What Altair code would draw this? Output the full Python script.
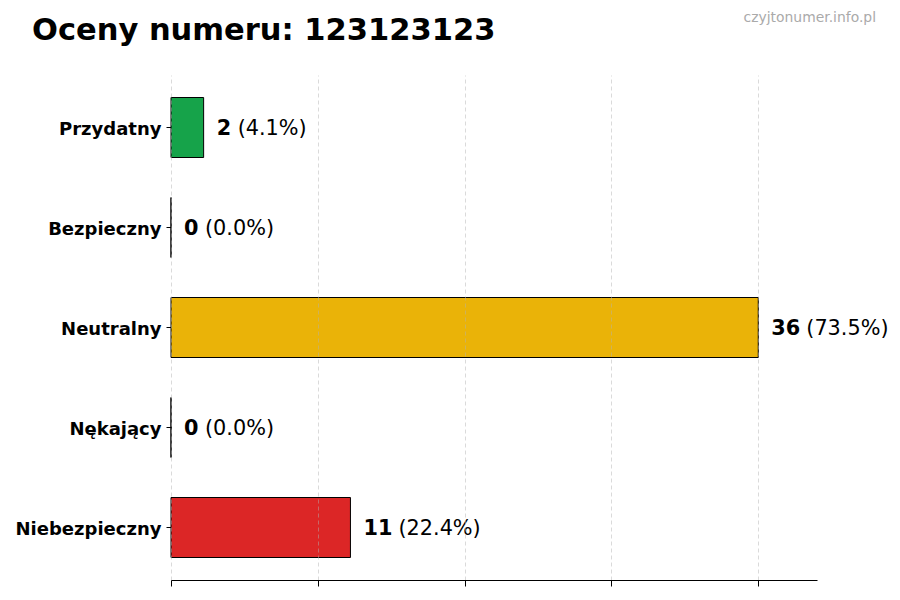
import altair as alt
import pandas as pd

categories = ["Przydatny", "Bezpieczny", "Neutralny", "Nękający", "Niebezpieczny"]
counts = [2, 0, 36, 0, 11]
percent_labels = ["(4.1%)", "(0.0%)", "(73.5%)", "(0.0%)", "(22.4%)"]
bar_colors = ["#16a34a", "#22c55e", "#eab308", "#f97316", "#dc2626"]
x_ticks = [0, 9, 18, 27, 36]
x_max = 39.6
title_text = "Oceny numeru: 123123123"
watermark_text = "czyjtonumer.info.pl"

df = pd.DataFrame({
    "category": categories,
    "count": counts,
    "pct": percent_labels,
    "digits": [len(str(c)) for c in counts],
})

FONT = "DejaVu Sans"

y_enc = alt.Y(
    "category:N",
    sort=categories,
    scale=alt.Scale(paddingInner=0.4, paddingOuter=0.225),
    axis=alt.Axis(
        title=None, domain=False, ticks=True, tickSize=5, tickColor="black",
        tickWidth=1, labelFont=FONT, labelFontWeight="bold", labelFontSize=18,
        labelColor="black", labelPadding=5, labelOffset=2,
    ),
)
x_enc = alt.X(
    "count:Q",
    scale=alt.Scale(domain=[0, x_max], nice=False, zero=True),
    axis=alt.Axis(
        title=None, values=x_ticks, labels=False, domain=True,
        domainColor="black", domainWidth=1.2, tickColor="black", tickSize=6,
        tickWidth=1, grid=True, gridColor="#b0b0b0", gridOpacity=0.6,
        gridDash=[4, 3], gridWidth=0.8, zindex=1,
    ),
)

base = alt.Chart(df)

bars = base.mark_bar(stroke="black", strokeWidth=1).encode(
    x=x_enc,
    y=y_enc,
    color=alt.Color("category:N", scale=alt.Scale(domain=categories, range=bar_colors), legend=None),
)

count_text = base.mark_text(
    align="left", baseline="middle", dx=13, dy=1, font=FONT, fontWeight="bold",
    fontSize=20.8, color="black",
).encode(x=x_enc, y=y_enc, text="count:Q")

pct_text_1 = base.transform_filter("datum.digits == 1").mark_text(
    align="left", baseline="middle", dx=34, dy=1, font=FONT, fontSize=20.8, color="black",
).encode(x=x_enc, y=y_enc, text="pct:N")

pct_text_2 = base.transform_filter("datum.digits == 2").mark_text(
    align="left", baseline="middle", dx=48, dy=1, font=FONT, fontSize=20.8, color="black",
).encode(x=x_enc, y=y_enc, text="pct:N")

title = alt.Chart(pd.DataFrame({"t": [title_text]})).mark_text(
    align="left", baseline="alphabetic", font=FONT, fontWeight="bold",
    fontSize=30.5, color="black",
).encode(x=alt.value(-139), y=alt.value(-35), text="t:N")

watermark = alt.Chart(pd.DataFrame({"t": [watermark_text]})).mark_text(
    align="right", baseline="alphabetic", font=FONT, fontSize=13.9, color="#aaaaaa",
).encode(x=alt.value(705), y=alt.value(-53), text="t:N")

chart = alt.layer(bars, count_text, pct_text_1, pct_text_2, title, watermark).properties(
    width=646,
    height=505,
    padding={"left": 163, "top": 67, "right": 74, "bottom": 10},
    autosize=alt.AutoSizeParams(type="none"),
    background="white",
).configure_view(stroke=None)

chart.save("out.html", embed_options={"renderer": "svg", "actions": False})
